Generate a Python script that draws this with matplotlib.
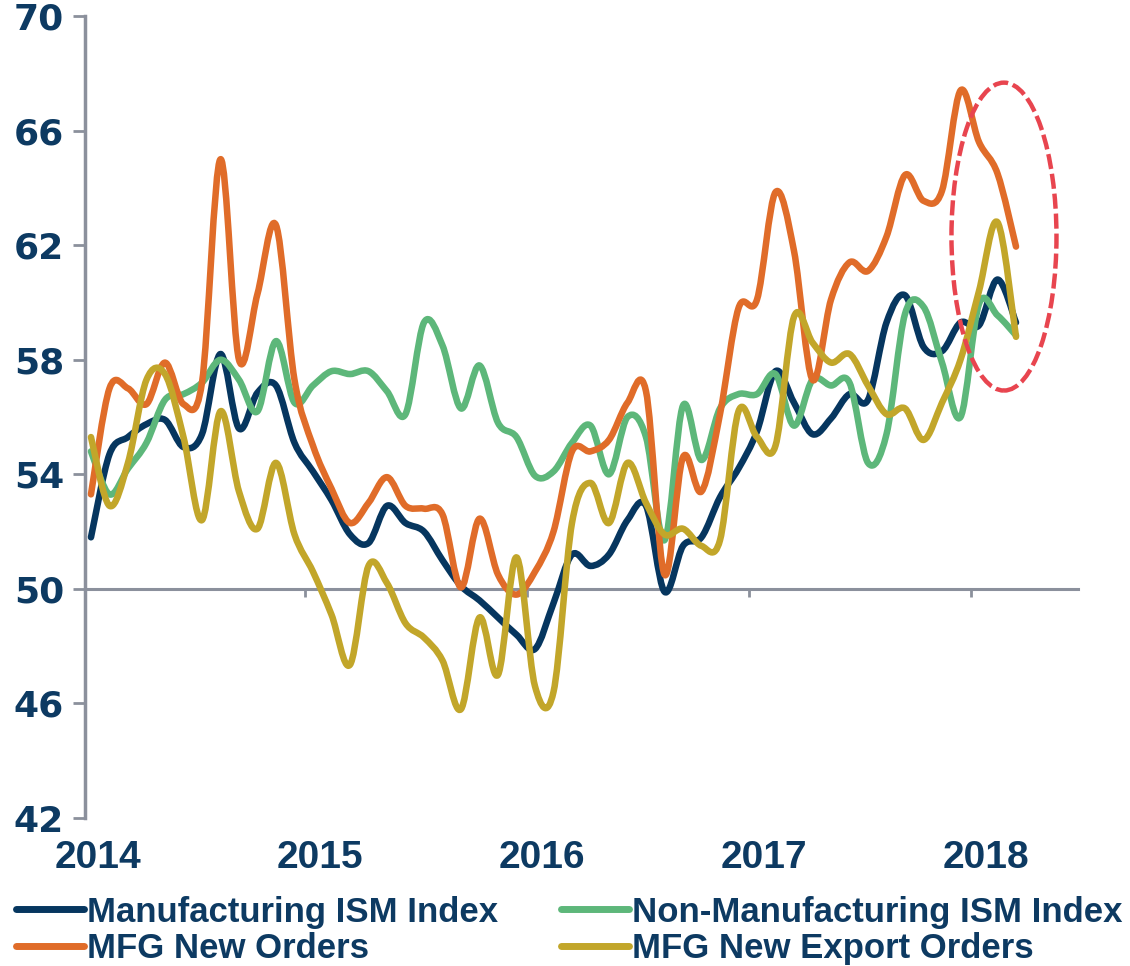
import numpy as np
import matplotlib
matplotlib.use("Agg")
import matplotlib.pyplot as plt
from matplotlib.path import Path
from matplotlib.patches import PathPatch, Ellipse
from matplotlib.lines import Line2D
import matplotlib.transforms as mtransforms

# monthly readings, Jan 2014 - Mar 2018
start_year = 2014
mfg_ism = [51.8, 54.7, 55.3, 55.75, 55.9, 54.95, 55.4, 58.2, 55.6, 56.85, 57.1, 55.1,
           54.1, 53.1, 51.9, 51.6, 52.9, 52.3, 52.0, 51.0, 50.1, 49.6, 49.0, 48.4,
           47.9, 49.5, 51.2, 50.8, 51.2, 52.4, 52.9, 49.9, 51.5, 51.8, 53.2, 54.2,
           55.5, 57.6, 56.5, 55.4, 55.95, 56.8, 56.6, 59.3, 60.25, 58.45, 58.3, 59.3,
           59.2, 60.8, 59.3]
non_mfg_ism = [54.8, 53.3, 54.2, 55.1, 56.6, 56.8, 57.2, 58.0, 57.3, 56.2, 58.65, 56.5,
               57.1, 57.6, 57.5, 57.6, 56.9, 56.1, 59.3, 58.5, 56.3, 57.8, 55.8, 55.3,
               53.95, 54.1, 55.1, 55.7, 54.0, 56.0, 55.3, 51.7, 56.4, 54.5, 56.3, 56.8,
               56.8, 57.5, 55.7, 57.3, 57.1, 57.2, 54.4, 55.4, 59.6, 59.85, 57.9, 56.0,
               59.95, 59.55, 58.85]
new_orders = [53.3, 57.0, 57.0, 56.45, 57.9, 56.45, 57.2, 65.0, 58.0, 60.3, 62.7, 57.3,
              55.0, 53.5, 52.3, 53.0, 53.9, 52.9, 52.8, 52.6, 50.05, 52.45, 50.5, 49.8,
              50.6, 52.0, 54.8, 54.8, 55.2, 56.5, 56.9, 50.5, 54.6, 53.4, 56.1, 59.8,
              60.1, 63.85, 61.8, 57.3, 60.1, 61.4, 61.1, 62.3, 64.45, 63.55, 63.9, 67.4,
              65.6, 64.5, 61.95]
export_orders = [55.3, 52.9, 54.4, 57.3, 57.5, 55.3, 52.4, 56.2, 53.4, 52.1, 54.4, 51.9,
                 50.6, 49.1, 47.35, 50.8, 50.2, 48.8, 48.3, 47.5, 45.8, 49.0, 47.0, 51.1,
                 46.6, 46.4, 52.3, 53.7, 52.3, 54.4, 53.0, 51.9, 52.1, 51.5, 51.7, 56.2,
                 55.3, 55.0, 59.5, 58.6, 57.9, 58.2, 57.1, 56.1, 56.3, 55.2, 56.5, 58.0,
                 60.4, 62.8, 58.8]

labels = ["Manufacturing ISM Index", "MFG New Orders",
          "Non-Manufacturing ISM Index", "MFG New Export Orders"]
years = [2014, 2015, 2016, 2017, 2018]
y_ticks = [42, 46, 50, 54, 58, 62, 66, 70]

navy = "#06365F"
green = "#5DB77A"
orange = "#E06C29"
gold = "#C2A62A"
text_col = "#0D3A62"
axis_grey = "#8B909C"
narrow = ["Liberation Sans", "DejaVu Sans"]


def smooth_path(x, y):
    # excel style smoothed line: bezier segments through every point
    p = np.column_stack([x, y])
    n = len(p)
    verts = [p[0]]
    codes = [Path.MOVETO]
    for i in range(n - 1):
        p0 = p[i - 1] if i > 0 else p[i]
        p3 = p[i + 2] if i + 2 < n else p[i + 1]
        c1 = p[i] + (p[i + 1] - p0) / 6.0
        c2 = p[i + 1] - (p3 - p[i]) / 6.0
        verts += [c1, c2, p[i + 1]]
        codes += [Path.CURVE4] * 3
    return Path(verts, codes)


x = start_year + np.arange(len(mfg_ism)) / 12.0

fig = plt.figure(figsize=(11.3, 9.66), dpi=100)
ax = fig.add_axes([0.0752, 0.1532, 0.8788, 0.8302])

series = [(mfg_ism, navy), (non_mfg_ism, green), (new_orders, orange), (export_orders, gold)]
for vals, col in series:
    patch = PathPatch(smooth_path(x, vals), fill=False, edgecolor=col, lw=4.7,
                      capstyle="round", joinstyle="round", zorder=3)
    ax.add_patch(patch)

# red dashed ellipse around the latest months
ell = Ellipse((start_year + 49.35 / 12, 62.3), 0.473, 10.75, fill=False,
              edgecolor="#E8454F", lw=3.2, linestyle=(0, (3.4, 1.1)), zorder=4)
ax.add_patch(ell)

ax.set_xlim(2013.973, 2018.446)
ax.set_ylim(42, 70)

for s in ["top", "right"]:
    ax.spines[s].set_visible(False)
ax.spines["left"].set_color(axis_grey)
ax.spines["left"].set_linewidth(2.5)
ax.spines["bottom"].set_position(("data", 50))
ax.spines["bottom"].set_color(axis_grey)
ax.spines["bottom"].set_linewidth(2.2)

ax.set_yticks(y_ticks)
ax.set_yticklabels([str(v) for v in y_ticks], fontsize=26, fontweight="bold",
                   color=text_col, family="DejaVu Sans")
ax.tick_params(axis="y", direction="out", length=9, width=2, color=axis_grey, pad=6)

ax.set_xticks([yr - 0.036 for yr in years[1:]])
ax.set_xticklabels([])
ax.tick_params(axis="x", direction="out", length=6, width=2, color=axis_grey)

trans = mtransforms.blended_transform_factory(ax.transData, ax.transAxes)
for yr in years:
    ax.text(yr + 0.03, -0.05, str(yr), transform=trans, ha="center", va="center",
            fontsize=28, fontweight="bold", color=text_col, family=narrow)

handles = [Line2D([], [], color=navy, lw=5, solid_capstyle="round"),
           Line2D([], [], color=orange, lw=5, solid_capstyle="round"),
           Line2D([], [], color=green, lw=5, solid_capstyle="round"),
           Line2D([], [], color=gold, lw=5, solid_capstyle="round")]
leg = fig.legend(handles, labels, ncol=2, loc="lower left", bbox_to_anchor=(-0.001, -0.017),
                 frameon=False, handlelength=1.95, handletextpad=0.1, columnspacing=1.8,
                 labelspacing=0.1, borderpad=0.0,
                 prop={"family": narrow, "weight": "bold", "size": 25})
for t in leg.get_texts():
    t.set_color(text_col)

fig.savefig("out.png", dpi=100)
